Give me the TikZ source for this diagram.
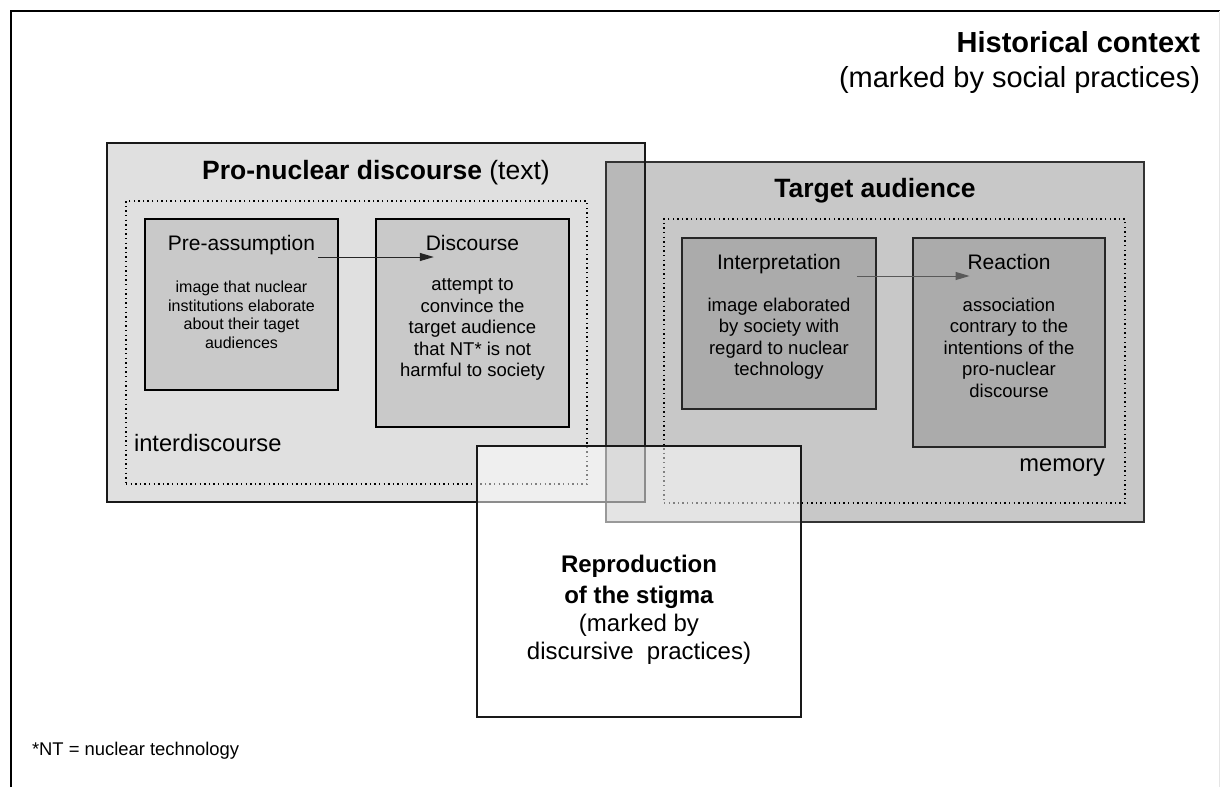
\documentclass[tikz,border=0pt]{standalone}
\usepackage{fontspec}
\setmainfont{Liberation Sans}
\usetikzlibrary{arrows.meta}
\definecolor{proFill}{gray}{0.88}
\definecolor{tgtFill}{gray}{0.553}
\definecolor{stageFill}{gray}{0.79}
\definecolor{reactFill}{gray}{0.67}
\begin{document}
\begin{tikzpicture}[x=1pt,y=-1pt,
    every node/.style={inner sep=0pt,outer sep=0pt},
    area/.style={anchor=north west,minimum width=538pt,minimum height=359pt,line width=1.5pt},
    field/.style={anchor=north west,draw=black,line width=1.4pt,dash pattern=on 1.4pt off 3.2pt,
      minimum width=461pt,minimum height=283pt},
    stage/.style={anchor=north west,draw=black,line width=2pt,minimum width=193pt},
    head/.style={anchor=base,font=\fontsize{26.5}{31}\selectfont},
    stagehead/.style={anchor=base,font=\fontsize{21}{25}\selectfont},
    stagetext/.style={anchor=north,align=center,font=\fontsize{18.5}{21.5}\selectfont},
    flow/.style={-{Triangle[length=14pt,width=8pt]},line width=1pt}]
  \useasboundingbox (0,0) rectangle (1220,787);
  % outer frame
  \draw[line width=2pt] (11,787) -- (11,11) -- (1220,11);
  \draw[black!10] (1219.5,11) -- (1219.5,787);
  \node[anchor=north east,align=right,font=\fontsize{29}{35}\selectfont] (hist) at (1200,31)
    {\textbf{Historical context}\\(marked by social practices)};

  % the two overlapping areas
  \node[area,fill=proFill,draw=black!90] (pro) at (107,143) {};
  \node[area,fill=tgtFill,fill opacity=0.48,draw=black!80,minimum height=360pt] (tgt) at (606,162) {};
  \draw[line width=1.5pt,black!90] (pro.north west) rectangle (pro.south east);
  \node[field] (proField) at (126,201) {};
  \node[field,minimum height=284pt] (tgtField) at (664,219) {};
  \node[head] (proHead) at ([yshift=-36pt]pro.north) {\textbf{Pro-nuclear discourse} (text)};
  \node[head] (tgtHead) at ([yshift=-35pt]tgt.north) {\textbf{Target audience}};

  % stages
  \node[stage,fill=stageFill,minimum height=171pt] (pre) at (145,219) {};
  \node[stage,fill=stageFill,minimum height=208pt] (disc) at (376,219) {};
  \node[stage,fill=reactFill,draw=black!85,minimum width=194pt,minimum height=171pt] (interp) at (682,238) {};
  \node[stage,fill=reactFill,draw=black!85,minimum width=192pt,minimum height=209pt] (react) at (913,238) {};

  \node[stagehead] (preHead) at ([yshift=-31pt]pre.north) {Pre-assumption};
  \node[stagehead] (discHead) at ([yshift=-31pt]disc.north) {Discourse};
  \node[stagehead] (interpHead) at ([yshift=-31pt]interp.north) {Interpretation};
  \node[stagehead] (reactHead) at ([yshift=-31pt]react.north) {Reaction};

  \node[stagetext,font=\fontsize{16}{18.7}\selectfont] (preText) at ([yshift=-62pt]pre.north)
    {image that nuclear\\institutions elaborate\\about their taget\\audiences};
  \node[stagetext] (discText) at ([yshift=-60pt]disc.north)
    {attempt to\\convince the\\target audience\\that NT* is not\\harmful to society};
  \node[stagetext] (interpText) at ([yshift=-60pt]interp.north)
    {image elaborated\\by society with\\regard to nuclear\\technology};
  \node[stagetext] (reactText) at ([yshift=-60pt]react.north)
    {association\\contrary to the\\intentions of the\\pro-nuclear\\discourse};

  \draw[flow,black!85,shorten <=3pt,shorten >=-8pt]
    ([yshift=-7pt]preHead.base east) -- ([yshift=-7pt]discHead.base west);
  \draw[flow,black!65,shorten <=16pt,shorten >=-2pt]
    ([yshift=-7pt]interpHead.base east) -- ([yshift=-7pt]reactHead.base west);

  \node[anchor=base west,font=\fontsize{23.7}{28}\selectfont] (inter)
    at ([xshift=8pt,yshift=33pt]proField.south west) {interdiscourse};
  \node[anchor=base east,font=\fontsize{23.7}{28}\selectfont] (mem)
    at ([xshift=-20pt,yshift=32pt]tgtField.south east) {memory};

  % stigma box on top
  \node[anchor=north west,minimum width=324pt,minimum height=271pt,fill=white,fill opacity=0.5,
    draw=black!90,line width=2pt] (repro) at (477,446) {};
  \node[anchor=north,align=center,font=\fontsize{24}{28}\selectfont] (reproText)
    at ([yshift=-109pt]repro.north)
    {\textbf{Reproduction}\\[3pt]\textbf{of the stigma}\\(marked by\\discursive~ practices)};

  \node[anchor=base west,font=\fontsize{18.4}{22}\selectfont] (note) at (32,755) {*NT = nuclear technology};
\end{tikzpicture}
\end{document}
